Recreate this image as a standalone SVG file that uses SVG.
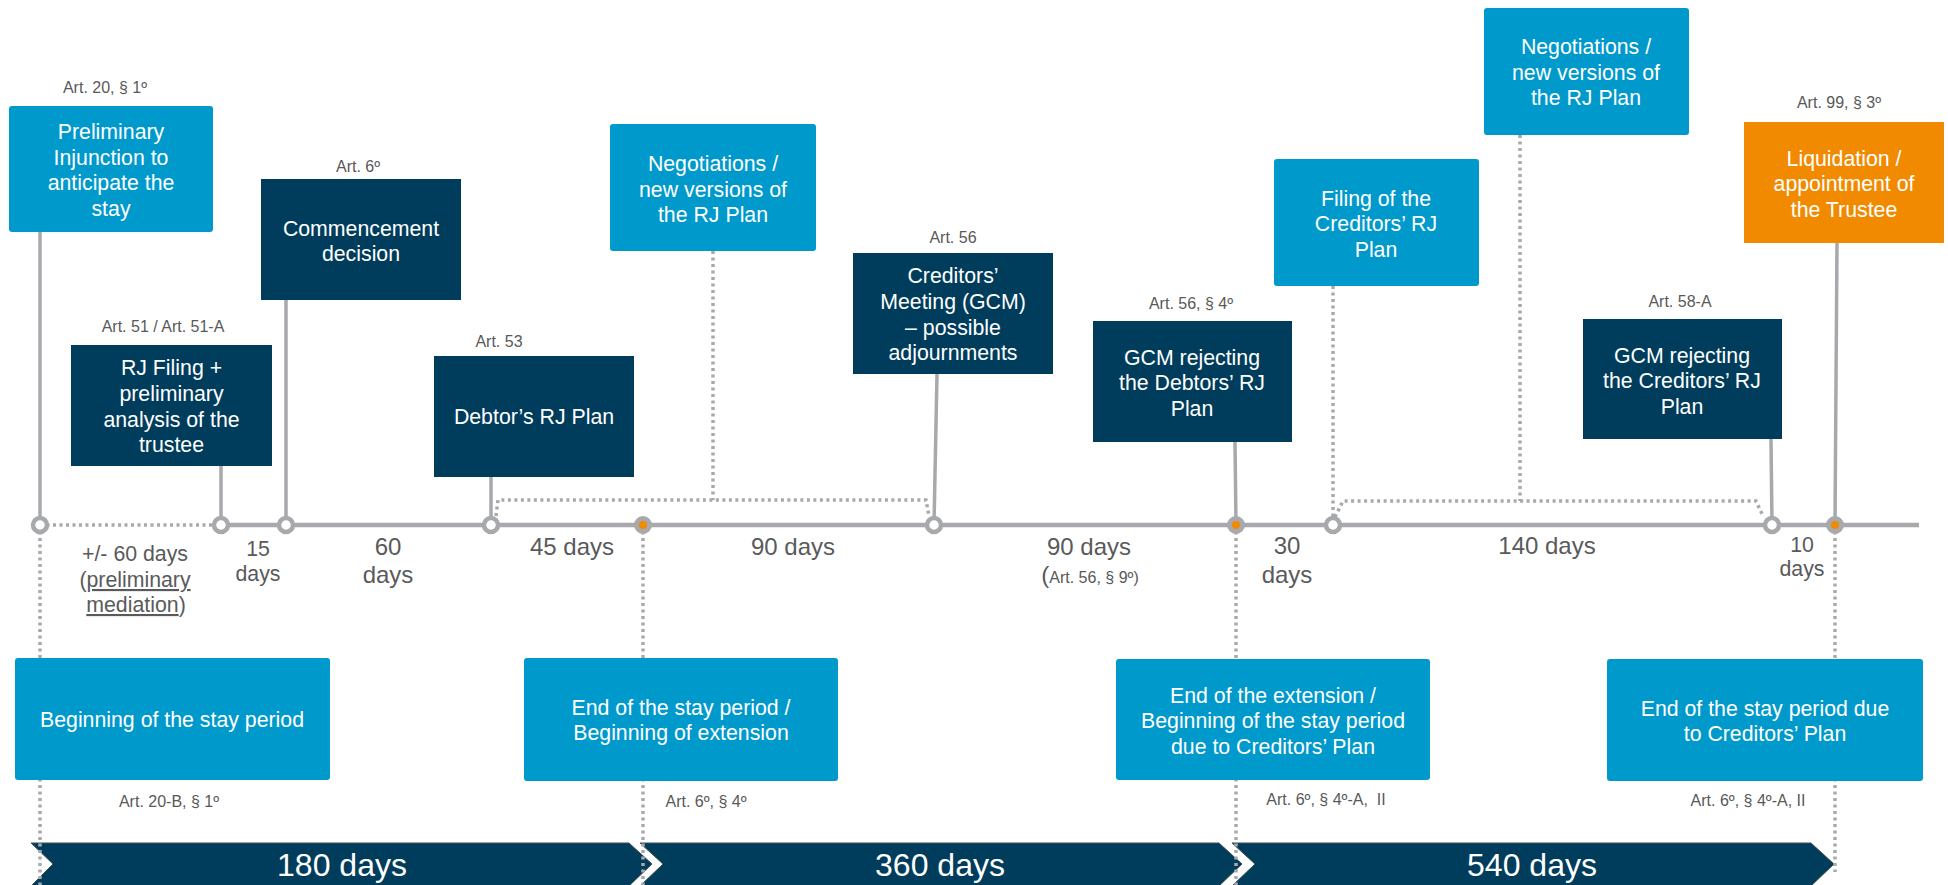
<svg xmlns="http://www.w3.org/2000/svg" width="1948" height="885" viewBox="0 0 1948 885">
<defs>
<style>
text{font-family:"Liberation Sans",Arial,sans-serif;}
.bt{font-size:21.3px;fill:#ffffff;text-anchor:middle;}
.art{font-size:16px;fill:#595959;text-anchor:middle;}
.dur{font-size:24px;fill:#595A5C;text-anchor:middle;}
.durs{font-size:21.3px;fill:#595A5C;text-anchor:middle;}
.chev{font-size:32px;fill:#ffffff;text-anchor:middle;}
.light{fill:#0099CC;}
.dark{fill:#003D5C;}
.orange{fill:#F28A00;}
.solid{stroke:#A7A9AC;stroke-width:3.5;fill:none;}
.dot{stroke:#A7A9AC;stroke-width:3.5;fill:none;stroke-dasharray:3 3.5;}
.tl{stroke:#A7A9AC;stroke-width:4.5;fill:none;}
.ring{fill:#ffffff;stroke:#A7A9AC;stroke-width:4.5;}
.oring{fill:#F28A00;stroke:#A7A9AC;stroke-width:5;}
.cv{fill:#003D5C;stroke:#3F5050;stroke-width:1;}
</style>
</defs>
<rect width="1948" height="885" fill="#ffffff"/>

<g id="connectors">
<line class="solid" x1="40" y1="232" x2="40" y2="525"/>
<line class="solid" x1="221" y1="466" x2="221" y2="525"/>
<line class="solid" x1="286" y1="300" x2="286" y2="525"/>
<line class="solid" x1="491" y1="477" x2="491" y2="525"/>
<line class="dot" x1="713" y1="251" x2="713" y2="500"/>
<path class="dot" d="M496 516 L498 500 L926 500 L929 516"/>
<line class="solid" x1="937" y1="374" x2="934" y2="525"/>
<line class="solid" x1="1235" y1="442" x2="1236" y2="525"/>
<line class="dot" x1="1333" y1="286" x2="1333" y2="525"/>
<line class="dot" x1="1520" y1="135" x2="1520" y2="501"/>
<path class="dot" d="M1335 517 L1343 501 L1756 501 L1763 516"/>
<line class="solid" x1="1771" y1="439" x2="1772" y2="525"/>
<line class="solid" x1="1837" y1="243" x2="1835" y2="525"/>
<line class="dot" x1="40" y1="525" x2="221" y2="525"/>
<line class="tl" x1="221" y1="525" x2="1919" y2="525"/>
</g>

<g id="chevrons">
<polygon class="cv" points="31,843 629,843 652,864 629,886 31,886 53,864"/>
<polygon class="cv" points="640,843 1219,843 1242,864 1219,886 640,886 663,864"/>
<polygon class="cv" points="1232,843 1811,843 1834,864 1811,886 1232,886 1255,864"/>
<text class="chev" x="342" y="876">180 days</text>
<text class="chev" x="940" y="876">360 days</text>
<text class="chev" x="1532" y="876">540 days</text>
</g>

<g id="drops">
<line class="dot" x1="40" y1="525" x2="40" y2="885"/>
<line class="dot" x1="643" y1="525" x2="643" y2="885"/>
<line class="dot" x1="1236" y1="525" x2="1236" y2="885"/>
<line class="dot" x1="1835" y1="525" x2="1835" y2="872"/>
</g>

<g id="n-preliminary-injunction">
<text class="art" x="105" y="93">Art. 20, § 1º</text>
<rect class="light" x="9" y="106" width="204" height="126" rx="3"/>
<text class="bt" x="111"><tspan x="111" y="139">Preliminary</tspan><tspan x="111" y="165">Injunction to</tspan><tspan x="111" y="190">anticipate the</tspan><tspan x="111" y="216">stay</tspan></text>
</g>

<g id="n-commencement">
<text class="art" x="358" y="172">Art. 6º</text>
<rect class="dark" x="261" y="179" width="200" height="121"/>
<text class="bt"><tspan x="361" y="236">Commencement</tspan><tspan x="361" y="261">decision</tspan></text>
</g>

<g id="n-rj-filing">
<text class="art" x="163" y="332">Art. 51 / Art. 51-A</text>
<rect class="dark" x="71" y="345" width="201" height="121"/>
<text class="bt"><tspan x="171.5" y="375">RJ Filing +</tspan><tspan x="171.5" y="401">preliminary</tspan><tspan x="171.5" y="427">analysis of the</tspan><tspan x="171.5" y="452">trustee</tspan></text>
</g>

<g id="n-debtor-plan">
<text class="art" x="499" y="347">Art. 53</text>
<rect class="dark" x="434" y="356" width="200" height="121"/>
<text class="bt" x="534" y="424">Debtor’s RJ Plan</text>
</g>

<g id="n-negotiations-1">
<rect class="light" x="610" y="124" width="206" height="127" rx="3"/>
<text class="bt"><tspan x="713" y="171">Negotiations /</tspan><tspan x="713" y="197">new versions of</tspan><tspan x="713" y="222">the RJ Plan</tspan></text>
</g>

<g id="n-creditors-meeting">
<text class="art" x="953" y="243">Art. 56</text>
<rect class="dark" x="853" y="253" width="200" height="121"/>
<text class="bt"><tspan x="953" y="283">Creditors’</tspan><tspan x="953" y="309">Meeting (GCM)</tspan><tspan x="953" y="335">– possible</tspan><tspan x="953" y="360">adjournments</tspan></text>
</g>

<g id="n-gcm-debtors">
<text class="art" x="1191" y="309">Art. 56, § 4º</text>
<rect class="dark" x="1093" y="321" width="199" height="121"/>
<text class="bt"><tspan x="1192" y="365">GCM rejecting</tspan><tspan x="1192" y="390">the Debtors’ RJ</tspan><tspan x="1192" y="416">Plan</tspan></text>
</g>

<g id="n-filing-creditors">
<rect class="light" x="1274" y="159" width="205" height="127" rx="3"/>
<text class="bt"><tspan x="1376" y="206">Filing of the</tspan><tspan x="1376" y="231">Creditors’ RJ</tspan><tspan x="1376" y="257">Plan</tspan></text>
</g>

<g id="n-negotiations-2">
<rect class="light" x="1484" y="8" width="205" height="127" rx="3"/>
<text class="bt"><tspan x="1586" y="54">Negotiations /</tspan><tspan x="1586" y="80">new versions of</tspan><tspan x="1586" y="105">the RJ Plan</tspan></text>
</g>

<g id="n-liquidation">
<text class="art" x="1839" y="108">Art. 99, § 3º</text>
<rect class="orange" x="1744" y="122" width="200" height="121"/>
<text class="bt"><tspan x="1844" y="166">Liquidation /</tspan><tspan x="1844" y="191">appointment of</tspan><tspan x="1844" y="217">the Trustee</tspan></text>
</g>

<g id="n-gcm-creditors">
<text class="art" x="1680" y="307">Art. 58-A</text>
<rect class="dark" x="1583" y="319" width="199" height="120"/>
<text class="bt"><tspan x="1682" y="363">GCM rejecting</tspan><tspan x="1682" y="388">the Creditors’ RJ</tspan><tspan x="1682" y="414">Plan</tspan></text>
</g>

<g id="n-beginning-stay">
<rect class="light" x="15" y="658" width="315" height="122" rx="3"/>
<text class="bt" x="172" y="727">Beginning of the stay period</text>
<text class="art" x="169" y="807">Art. 20-B, § 1º</text>
</g>

<g id="n-end-stay">
<rect class="light" x="524" y="658" width="314" height="123" rx="3"/>
<text class="bt"><tspan x="681" y="715">End of the stay period /</tspan><tspan x="681" y="740">Beginning of extension</tspan></text>
<text class="art" x="706" y="807">Art. 6º, § 4º</text>
</g>

<g id="n-end-extension">
<rect class="light" x="1116" y="659" width="314" height="121" rx="3"/>
<text class="bt"><tspan x="1273" y="703">End of the extension /</tspan><tspan x="1273" y="728">Beginning of the stay period</tspan><tspan x="1273" y="754">due to Creditors’ Plan</tspan></text>
<text class="art" x="1326" y="805" xml:space="preserve">Art. 6º, § 4º-A,  II</text>
</g>

<g id="n-end-stay-creditors">
<rect class="light" x="1607" y="659" width="316" height="122" rx="3"/>
<text class="bt"><tspan x="1765" y="716">End of the stay period due</tspan><tspan x="1765" y="741">to Creditors’ Plan</tspan></text>
<text class="art" x="1748" y="806">Art. 6º, § 4º-A, II</text>
</g>

<g id="durations">
<text class="durs"><tspan x="135" y="561">+/- 60 days</tspan><tspan x="135" y="587">(<tspan text-decoration="underline">preliminary</tspan></tspan><tspan x="136" y="612"><tspan text-decoration="underline">mediation</tspan>)</tspan></text>
<text class="durs"><tspan x="258" y="556">15</tspan><tspan x="258" y="581">days</tspan></text>
<text class="dur"><tspan x="388" y="555">60</tspan><tspan x="388" y="583">days</tspan></text>
<text class="dur" x="572" y="555">45 days</text>
<text class="dur" x="793" y="555">90 days</text>
<text class="dur" x="1089" y="555">90 days</text>
<text class="art" x="1090" y="583"><tspan font-size="24px">(</tspan>Art. 56, § 9º)</text>
<text class="dur"><tspan x="1287" y="554">30</tspan><tspan x="1287" y="583">days</tspan></text>
<text class="dur" x="1547" y="554">140 days</text>
<text class="durs"><tspan x="1802" y="552">10</tspan><tspan x="1802" y="576">days</tspan></text>
</g>

<g id="markers">
<circle class="ring" cx="40" cy="525" r="7"/>
<circle class="ring" cx="221" cy="525" r="7"/>
<circle class="ring" cx="286" cy="525" r="7"/>
<circle class="ring" cx="491" cy="525" r="7"/>
<circle class="oring" cx="643" cy="525" r="6.5"/>
<circle class="ring" cx="934" cy="525" r="7"/>
<circle class="oring" cx="1236" cy="525" r="6.5"/>
<circle class="ring" cx="1333" cy="525" r="7"/>
<circle class="ring" cx="1772" cy="525" r="7"/>
<circle class="oring" cx="1835" cy="525" r="6.5"/>
</g>
</svg>
